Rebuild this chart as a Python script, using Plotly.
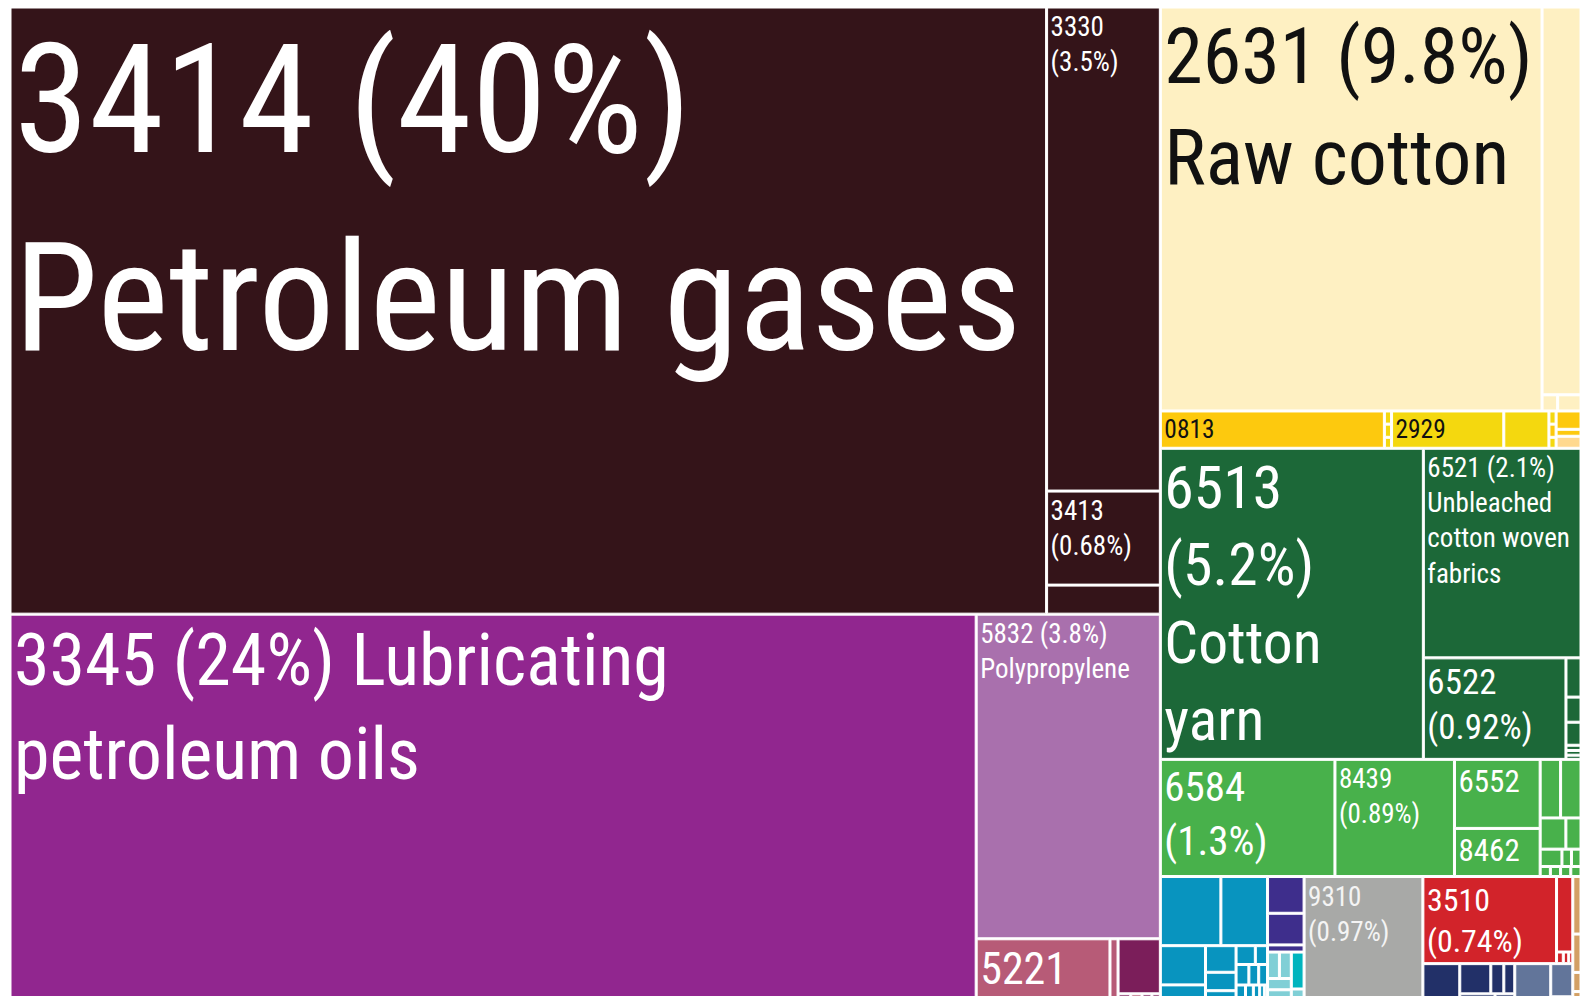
import plotly.graph_objects as go

# ---------------- DATA (shares in % of total exports) ----------------
# frame groups (invisible containers that give the tiling its structure)
frame_ids = ["g:root", "g:L", "g:R"]
frame_parents = ["", "g:root", "g:root"]
frame_shares = [0, 0, 0]

# mineral fuels block (top left)
fuel_ids = ["g:brown", "3414", "g:brownCol", "3330", "3413", "brn.a"]
fuel_parents = ["g:L", "g:brown", "g:brown", "g:brownCol", "g:brownCol", "g:brownCol"]
fuel_shares = [0, 40, 0, 3.5, 0.68, 0.21]

# chemicals block (bottom left)
chem_ids = ["g:purple", "3345", "g:purpleCol", "5832", "g:purpleRow", "5221", "pink.a",
            "g:magCol", "mag.a", "g:magRow", "mag.b", "pink.b", "mag.c", "mag.d"]
chem_parents = ["g:L", "g:purple", "g:purple", "g:purpleCol", "g:purpleCol", "g:purpleRow",
                "g:purpleRow", "g:purpleRow", "g:magCol", "g:magCol", "g:magRow", "g:magRow",
                "g:magRow", "g:magRow"]
chem_shares = [0, 24, 0, 3.8, 0, 0.563, 0.034, 0, 0.148, 0, 0.009, 0.008, 0.007, 0.006]

# raw materials (cream)
raw_ids = ["g:cream", "2631", "g:creamCol", "crm.a", "g:creamRow", "crm.b", "crm.c"]
raw_parents = ["g:R", "g:cream", "g:cream", "g:creamCol", "g:creamCol", "g:creamRow", "g:creamRow"]
raw_shares = [0, 9.8, 0, 0.96, 0, 0.016, 0.024]

# food / misc (yellow strip)
food_ids = ["g:yellow", "0813", "g:yT1", "yel.a", "yel.b", "yel.c", "2929", "yel.d",
            "g:yT2", "yel.e", "org.c", "yel.f", "g:yCol", "org.a", "org.b", "peach.a"]
food_parents = ["g:R", "g:yellow", "g:yellow", "g:yT1", "g:yT1", "g:yT1", "g:yellow", "g:yellow",
                "g:yellow", "g:yT2", "g:yT2", "g:yT2", "g:yellow", "g:yCol", "g:yCol", "g:yCol"]
food_shares = [0, 0.531, 0, 0.006, 0.006, 0.005, 0.266, 0.107, 0, 0.006, 0.006, 0.005,
               0, 0.029, 0.011, 0.019]

# textiles (dark green)
tex_ids = ["g:dkgreen", "6513", "g:dgCol", "6521", "g:dgRow", "6522", "g:dgTiny",
           "dg.a", "dg.b", "dg.c", "dg.d", "dg.e", "dg.f"]
tex_parents = ["g:R", "g:dkgreen", "g:dkgreen", "g:dgCol", "g:dgCol", "g:dgRow", "g:dgRow",
               "g:dgTiny", "g:dgTiny", "g:dgTiny", "g:dgTiny", "g:dgTiny", "g:dgTiny"]
tex_shares = [0, 5.2, 0, 2.1, 0, 0.92, 0, 0.0375, 0.024, 0.022, 0.005, 0.0045, 0.004]

# garments (light green)
gar_ids = ["g:ltgreen", "6584", "8439", "g:lgCol", "6552", "8462", "g:lgSmall",
           "g:lgR1", "lg.a", "lg.b", "g:lgR2", "lg.c", "lg.d", "g:lgR3", "lg.e", "lg.f", "lg.g",
           "g:lgR4", "lg.h", "lg.i", "lg.j", "lg.k"]
gar_parents = ["g:R", "g:ltgreen", "g:ltgreen", "g:ltgreen", "g:lgCol", "g:lgCol", "g:ltgreen",
               "g:lgSmall", "g:lgR1", "g:lgR1", "g:lgSmall", "g:lgR2", "g:lgR2", "g:lgSmall",
               "g:lgR3", "g:lgR3", "g:lgR3", "g:lgSmall", "g:lgR4", "g:lgR4", "g:lgR4", "g:lgR4"]
gar_shares = [0, 1.3, 0.89, 0, 0.376, 0.262, 0, 0, 0.076, 0.076, 0, 0.051, 0.030, 0,
              0.024, 0.0105, 0.0105, 0, 0.0065, 0.0065, 0.0065, 0.0065]

# machinery / misc (bottom right)
misc_ids = ["g:bottom",
            "g:blue", "g:blR1", "blu.a", "blu.b", "g:blR2",
            "g:blC1", "blu.c", "blu.d", "g:blC2", "blu.e", "blu.f", "blu.g",
            "g:blC3", "g:blC3r1", "blu.h", "blu.i", "g:blC3r2", "blu.j", "blu.k", "blu.l",
            "g:blC3r3", "blu.m", "blu.n", "blu.o", "blu.p", "blu.q",
            "g:pcol", "pb.a", "pb.b", "pb.c", "g:tealRow", "g:ltTeal", "g:ltR1", "lt.a", "lt.b",
            "lt.c", "lt.d", "lt.e", "g:tealCol", "tl.a", "lt.f", "tl.b",
            "9310",
            "g:rn", "g:redRow", "3510", "g:redCol", "red.a", "g:redTiny", "red.b", "red.c", "red.d",
            "g:navyRow", "nav.a", "g:navyGrp", "g:navyR1", "nav.b", "nav.c", "nav.d",
            "g:navyR2", "nav.e", "nav.f", "sla.a", "g:slateCol", "sla.b", "sla.c",
            "g:tan", "tan.a", "tan.b", "tan.c", "tan.d"]
misc_parents = ["g:R",
                "g:bottom", "g:blue", "g:blR1", "g:blR1", "g:blue",
                "g:blR2", "g:blC1", "g:blC1", "g:blR2", "g:blC2", "g:blC2", "g:blC2",
                "g:blR2", "g:blC3", "g:blC3r1", "g:blC3r1", "g:blC3", "g:blC3r2", "g:blC3r2", "g:blC3r2",
                "g:blC3", "g:blC3r3", "g:blC3r3", "g:blC3r3", "g:blC3r3", "g:blC3r3",
                "g:bottom", "g:pcol", "g:pcol", "g:pcol", "g:pcol", "g:tealRow", "g:ltTeal", "g:ltR1", "g:ltR1",
                "g:ltTeal", "g:ltTeal", "g:ltTeal", "g:tealRow", "g:tealCol", "g:tealCol", "g:tealCol",
                "g:bottom",
                "g:bottom", "g:rn", "g:redRow", "g:redRow", "g:redCol", "g:redCol", "g:redTiny", "g:redTiny", "g:redTiny",
                "g:rn", "g:navyRow", "g:navyRow", "g:navyGrp", "g:navyR1", "g:navyR1", "g:navyR1",
                "g:navyGrp", "g:navyR2", "g:navyR2", "g:navyRow", "g:navyRow", "g:slateCol", "g:slateCol",
                "g:bottom", "g:tan", "g:tan", "g:tan", "g:tan"]
misc_shares = [0,
               0, 0, 0.266, 0.205, 0,
               0, 0.1125, 0.0577, 0, 0.0517, 0.0358, 0.0278,
               0, 0, 0.0231, 0.0146, 0, 0.0167, 0.0128, 0.0115,
               0, 0.012, 0.010, 0.008, 0.006, 0.004,
               0, 0.0854, 0.0735, 0.0166, 0, 0, 0, 0.02, 0.02,
               0.017, 0.013, 0.01, 0, 0.03, 0.008, 0.005,
               0.97,
               0, 0, 0.74, 0, 0.078, 0, 0.005, 0.004, 0.003,
               0, 0.097, 0, 0, 0.0596, 0.025, 0.021,
               0, 0.025, 0.014, 0.0946, 0, 0.0465, 0.0115,
               0, 0.03, 0.02, 0.01, 0.007]

# labelled products
label_codes = ["3414", "3345", "3330", "3413", "2631", "0813", "2929", "6513", "6521", "6522",
               "6584", "8439", "6552", "8462", "5832", "5221", "9310", "3510"]
label_texts = ["3414 (40%)<br>Petroleum gases", "3345 (24%) Lubricating<br>petroleum oils",
               "3330<br>(3.5%)", "3413<br>(0.68%)", "2631 (9.8%)<br>Raw cotton", "0813", "2929",
               "6513<br>(5.2%)<br>Cotton<br>yarn", "6521 (2.1%)<br>Unbleached<br>cotton woven<br>fabrics",
               "6522<br>(0.92%)", "6584<br>(1.3%)", "8439<br>(0.89%)", "6552", "8462",
               "5832 (3.8%)<br>Polypropylene", "5221", "9310<br>(0.97%)", "3510<br>(0.74%)"]

# ---------------- STYLE ----------------
palette = {"brn": "#341419", "pur": "#91268F", "lav": "#A970AD", "pink": "#B75B77", "mag": "#7B1E5A",
           "crm": "#FEF0C2", "org": "#FDC90E", "yel": "#F4D80F", "peach": "#FFD98F",
           "dg": "#1C6838", "lg": "#48B14B", "blu": "#0894BF", "pb": "#3E2E8C", "lt": "#80CFD6",
           "tl": "#00B4BE", "gry": "#A8A9A7", "red": "#D2232A", "nav": "#223068", "sla": "#62759A",
           "tan": "#D3A064"}
code_colour = {"3414": "brn", "3330": "brn", "3413": "brn", "3345": "pur", "5832": "lav",
               "5221": "pink", "2631": "crm", "0813": "org", "2929": "yel", "6513": "dg",
               "6521": "dg", "6522": "dg", "6584": "lg", "8439": "lg", "6552": "lg", "8462": "lg",
               "9310": "gry", "3510": "red"}
label_size = {"3414": 152, "3345": 72, "3330": 27, "3413": 27, "2631": 78, "0813": 26, "2929": 26,
              "6513": 60, "6521": 27, "6522": 35, "6584": 41, "8439": 27, "6552": 31, "8462": 31,
              "5832": 27, "5221": 44, "9310": 27, "3510": 34}
dark_text = {"2631", "0813", "2929"}

ids = frame_ids + fuel_ids + chem_ids + raw_ids + food_ids + tex_ids + gar_ids + misc_ids
parents = (frame_parents + fuel_parents + chem_parents + raw_parents + food_parents
           + tex_parents + gar_parents + misc_parents)
shares = (frame_shares + fuel_shares + chem_shares + raw_shares + food_shares
          + tex_shares + gar_shares + misc_shares)

label_map = dict(zip(label_codes, label_texts))
colors, texts, sizes, tcolors = [], [], [], []
for i in ids:
    if i.startswith("g:"):
        colors.append("#FFFFFF")
    elif i in code_colour:
        colors.append(palette[code_colour[i]])
    else:
        colors.append(palette[i.split(".")[0]])
    texts.append(label_map.get(i, ""))
    sizes.append(label_size.get(i, 10))
    tcolors.append("#111111" if i in dark_text else ("#F4F4F4" if i == "9310" else "#FFFFFF"))

fig = go.Figure(go.Treemap(
    ids=ids,
    labels=ids,
    parents=parents,
    values=shares,
    branchvalues="remainder",
    sort=False,
    text=texts,
    texttemplate="%{text}",
    textposition="top left",
    textfont=dict(family="Roboto Condensed, Liberation Sans Narrow, DejaVu Sans Condensed, sans-serif",
                  size=sizes, color=tcolors),
    marker=dict(colors=colors, line=dict(color="#FFFFFF", width=1),
                pad=dict(t=0, l=0, r=0, b=0)),
    tiling=dict(packing="slice-dice", pad=2),
    pathbar=dict(visible=False),
    hoverinfo="skip",
))
fig.update_layout(width=1594, height=996, margin=dict(l=3, r=22, t=0, b=0),
                  paper_bgcolor="#FFFFFF", plot_bgcolor="#FFFFFF")
fig.write_html("out.html")
